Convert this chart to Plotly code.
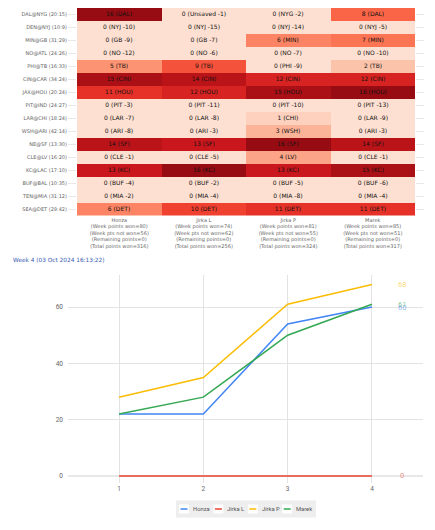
import plotly.graph_objects as go
import plotly.express as px

# page body has an 8px default margin; figure sized to fit inside the window
OFF = 8
W, H = 419, 514

# ---------------- data ----------------
games = ["DAL@NYG (20:15)", "DEN@NYJ (10:9)", "MIN@GB (31:29)", "NO@ATL (24:26)",
         "PHI@TB (16:33)", "CIN@CAR (34:24)", "JAX@HOU (20:24)", "PIT@IND (24:27)",
         "LAR@CHI (18:24)", "WSH@ARI (42:14)", "NE@SF (13:30)", "CLE@LV (16:20)",
         "KC@LAC (17:10)", "BUF@BAL (10:35)", "TEN@MIA (31:12)", "SEA@DET (29:42)"]

players = ["Honza", "Jirka L", "Jirka P", "Marek"]

honza_points = [16, 0, 0, 0, 5, 15, 11, 0, 0, 0, 14, 0, 13, 0, 0, 6]
honza_picks = ["DAL", "NYJ", "GB", "NO", "TB", "CIN", "HOU", "PIT", "LAR", "ARI", "SF", "CLE", "KC", "BUF", "MIA", "DET"]
honza_margin = [0, -10, -9, -12, 0, 0, 0, -3, -7, -8, 0, -1, 0, -4, -2, 0]

jirkal_points = [0, 0, 0, 0, 9, 14, 12, 0, 0, 0, 13, 0, 16, 0, 0, 10]
jirkal_picks = ["Unsaved", "NYJ", "GB", "NO", "TB", "CIN", "HOU", "PIT", "LAR", "ARI", "SF", "CLE", "KC", "BUF", "MIA", "DET"]
jirkal_margin = [-1, -15, -7, -6, 0, 0, 0, -11, -8, -3, 0, -5, 0, -2, -4, 0]

jirkap_points = [0, 0, 6, 0, 0, 12, 15, 0, 1, 3, 16, 4, 13, 0, 0, 11]
jirkap_picks = ["NYG", "NYJ", "MIN", "NO", "PHI", "CIN", "HOU", "PIT", "CHI", "WSH", "SF", "LV", "KC", "BUF", "MIA", "DET"]
jirkap_margin = [-2, -14, 0, -7, -9, 0, 0, -10, 0, 0, 0, 0, 0, -5, -8, 0]

marek_points = [8, 0, 7, 0, 2, 12, 16, 0, 0, 0, 14, 0, 15, 0, 0, 11]
marek_picks = ["DAL", "NYJ", "MIN", "NO", "TB", "CIN", "HOU", "PIT", "LAR", "ARI", "SF", "CLE", "KC", "BUF", "MIA", "DET"]
marek_margin = [0, -5, 0, -10, 0, 0, 0, -13, -9, -3, 0, -1, 0, -6, -4, 0]

remaining_points = [0, 0, 0, 0]
total_points_won = [316, 256, 324, 317]

title_text = "Week 4 (03 Oct 2024 16:13:22)"

weeks = [1, 2, 3, 4]
honza_line = [22, 22, 54, 60]
jirkal_line = [0, 0, 0, 0]
jirkap_line = [28, 35, 61, 68]
marek_line = [22, 28, 50, 61]

line_colors = ["#4285F4", "#EA4335", "#FBBC04", "#34A853"]
label_colors = ["rgba(66,133,244,0.6)", "rgba(234,67,53,0.6)",
                "rgba(251,188,4,0.6)", "rgba(52,168,83,0.6)"]

# ---------------- helpers (screen px -> paper fraction) ----------------
def _clamp(v):
    return max(0.0, min(1.0, v))

def px_x(p):
    return _clamp((p - OFF) / W)

def px_y(p):
    return _clamp(1 - (p - OFF) / H)

all_points = [honza_points, jirkal_points, jirkap_points, marek_points]
all_picks = [honza_picks, jirkal_picks, jirkap_picks, marek_picks]
all_margin = [honza_margin, jirkal_margin, jirkap_margin, marek_margin]
all_lines = [honza_line, jirkal_line, jirkap_line, marek_line]

z = [[all_points[c][r] for c in range(4)] for r in range(len(games))]
txt = []
for r in range(len(games)):
    row = []
    for c in range(4):
        p = all_points[c][r]
        if p > 0:
            row.append(f"{p} ({all_picks[c][r]})")
        else:
            row.append(f"0 ({all_picks[c][r]} {all_margin[c][r]})")
    txt.append(row)

col_labels = []
for c, name in enumerate(players):
    won = sum(all_points[c])
    notwon = -sum(all_margin[c])
    col_labels.append(f"{name}<br>(Week points won={won})<br>(Week pts not won={notwon})"
                      f"<br>(Remaining points={remaining_points[c]})<br>(Total points won={total_points_won[c]})")

reds = px.colors.sequential.Reds
cs = [[i / (len(reds) - 1), col] for i, col in enumerate(reds)]

fig = go.Figure()

fig.add_trace(go.Heatmap(
    z=z, x=col_labels, y=games, text=txt, texttemplate="%{text}",
    textfont=dict(family="DejaVu Sans", size=6, color="#111111"),
    colorscale=cs, zmin=-2.6, zmax=18, showscale=False,
    xaxis="x", yaxis="y", xgap=0, ygap=0, hoverinfo="skip",
))

annotations = []
for name, vals, col, lcol in zip(players, all_lines, line_colors, label_colors):
    fig.add_trace(go.Scatter(x=weeks, y=vals, mode="lines", name=name,
                             line=dict(color=col, width=1.5),
                             xaxis="x2", yaxis="y2", showlegend=False))
    annotations.append(dict(x=weeks[-1], y=vals[-1], xref="x2", yref="y2",
                            text=str(vals[-1]), showarrow=False, xshift=30,
                            font=dict(family="Roboto", size=7.5, color=lcol)))

annotations.append(dict(x=px_x(11), y=px_y(260), xref="paper", yref="paper",
                        xanchor="left", yanchor="middle", text=title_text,
                        showarrow=False,
                        font=dict(family="DejaVu Sans", size=5.8, color="#3a5cae")))

# ---------------- custom compact legend ----------------
shapes = []
leg_x0, leg_x1 = 176, 316
leg_y0, leg_y1 = 500.5, 517.5
leg_cy = (leg_y0 + leg_y1) / 2
shapes.append(dict(type="rect", xref="paper", yref="paper",
                   x0=px_x(leg_x0), x1=px_x(leg_x1), y0=px_y(leg_y1), y1=px_y(leg_y0),
                   fillcolor="#eeeeee", line=dict(width=0), layer="below"))
stride = 34.4
for i, (name, col) in enumerate(zip(players, line_colors)):
    sx = 179 + i * stride
    shapes.append(dict(type="rect", xref="paper", yref="paper",
                       x0=px_x(sx), x1=px_x(sx + 10), y0=px_y(leg_cy + 4.5), y1=px_y(leg_cy - 4.5),
                       fillcolor="white", line=dict(width=0)))
    shapes.append(dict(type="line", xref="paper", yref="paper",
                       x0=px_x(sx + 1.5), x1=px_x(sx + 8.5), y0=px_y(leg_cy), y1=px_y(leg_cy),
                       line=dict(color=col, width=1.5)))
    annotations.append(dict(x=px_x(sx + 12), y=px_y(leg_cy), xref="paper", yref="paper",
                            xanchor="left", yanchor="middle", text=name, showarrow=False,
                            font=dict(family="Roboto", size=5.8, color="#555555")))

# line chart geometry
y_dom = [px_y(483), px_y(275)]
x_dom = [px_x(68), px_x(423)]

fig.update_layout(
    width=W, height=H, autosize=False,
    margin=dict(l=0, r=0, t=0, b=0, autoexpand=False),
    paper_bgcolor="white", plot_bgcolor="white",
    showlegend=False,
    annotations=annotations,
    shapes=shapes,
    xaxis=dict(domain=[px_x(77), px_x(415)], anchor="y", side="bottom",
               showgrid=False, zeroline=False, ticks="",
               tickfont=dict(family="DejaVu Sans", size=5, color="#666666")),
    yaxis=dict(domain=[px_y(215.5), px_y(7.5)], anchor="x", autorange="reversed",
               showgrid=False, zeroline=False, ticks="outside", ticklen=8,
               tickcolor="#e8e8e8", tickwidth=1, mirror="ticks", showline=False,
               tickfont=dict(family="DejaVu Sans", size=5, color="#666666")),
    xaxis2=dict(domain=x_dom, anchor="y2", range=[0.395, 4.605],
                tickvals=weeks, showgrid=True, gridcolor="#e3e3e3", gridwidth=1,
                zeroline=False, ticks="",
                tickfont=dict(family="Roboto", size=6.5, color="#666666")),
    yaxis2=dict(domain=y_dom, anchor="x2", range=[-2.5, 71.4],
                tickvals=[0, 20, 40, 60], showgrid=True, gridcolor="#e3e3e3",
                zeroline=True, zerolinecolor="#e8e8e8", zerolinewidth=2,
                ticks="", ticklabelstandoff=4,
                tickfont=dict(family="Roboto", size=6.5, color="#666666")),
)

fig.write_html("out.html")
